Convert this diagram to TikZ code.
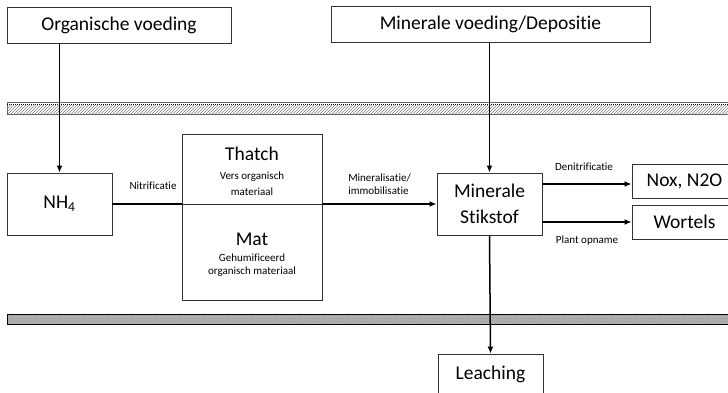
\documentclass[tikz,border=0pt]{standalone}
\usepackage{fontspec}
\setmainfont{Carlito}[Ligatures=NoCommon]
\usetikzlibrary{arrows.meta,patterns}
\newcommand{\grotetekst}{\fontsize{19.5}{26}\selectfont}
\newcommand{\kleinetekst}{\fontsize{11}{13.5}\selectfont}

\begin{document}
\begin{tikzpicture}[x=1pt,y=-1pt,
  box/.style={draw=black!80,line width=0.9pt,inner sep=0pt,align=center,font=\grotetekst},
  titel/.style={inner sep=0pt,font=\grotetekst},
  flow/.style={draw,line width=1.5pt,-{Latex[length=7pt,width=6pt]}},
  lbl/.style={font=\kleinetekst,inner sep=0pt,align=left}]
\useasboundingbox (0,0) rectangle (728,392);

% bodemlagen
\fill[pattern=north east lines,pattern color=gray] (7,105) rectangle (730,113);
\draw[gray!80!black,line width=0.8pt] (7,102) rectangle (730,114);
\draw[densely dotted,line width=1pt] (7,104.5) -- (730,104.5);
\fill[gray!60] (7,314) rectangle (730,324);
\fill[pattern=crosshatch dots,pattern color=gray!90] (7,314) rectangle (730,324);
\draw[line width=0.9pt] (7,314) rectangle (730,324);

% bronnen
\node[box,minimum width=224pt,minimum height=36pt] (orgv) at (119,25) {Organische voeding};
\node[box,minimum width=319pt,minimum height=36pt] (minv) at (490.5,24) {Minerale voeding/Depositie};

% bodem
\node[box,minimum width=105pt,minimum height=62pt] (nh4) at (59.5,204) {NH\textsubscript{4}};
\node[box,minimum width=140pt,minimum height=70pt] (thatch) at (252,169) {};
\node[titel] (thatchtitel) at (252,154) {Thatch};
\node[lbl,align=center] (thatchsub) at (252,183.5) {Vers organisch\\[3pt]materiaal};
\node[box,minimum width=140pt,minimum height=96pt] (mat) at (252,252) {};
\node[titel] (mattitel) at (252,239) {Mat};
\node[lbl,align=center] (matsub) at (252,265) {Gehumificeerd\\organisch materiaal};
\node[box,minimum width=105pt,minimum height=62pt] (stik) at (489.5,204) {Minerale\\Stikstof};

% verliezen
\node[box,minimum width=105pt,minimum height=34pt] (nox) at (684.5,181) {Nox, N2O};
\node[box,minimum width=105pt,minimum height=34pt] (wort) at (684.5,222) {Wortels};
\node[box,minimum width=105pt,minimum height=40pt] (leach) at (490.5,374) {Leaching};

% stromen
\draw[flow] (nh4.north |- orgv.south) -- (nh4.north);
\draw[flow] (stik.north |- minv.south) -- (stik.north);
\draw[line width=1.5pt] (nh4.east) -- (nh4.east -| mat.west)
  node[lbl,midway,above=14pt,xshift=6pt] (nitr) {Nitrificatie};
\draw[flow] (stik.west -| thatch.east) -- (stik.west)
  node[lbl,midway,above=8.5pt] (miner) {Mineralisatie/\\immobilisatie};
\draw[flow] ([yshift=-3pt]stik.east |- nox.west) -- ([yshift=-3pt]nox.west)
  node[lbl,midway,above=13pt,xshift=-3pt] (denit) {Denitrificatie};
\draw[flow] (stik.east |- wort.west) -- (wort.west)
  node[lbl,midway,below=13pt] (opname) {Plant opname};
\draw[flow] (stik.south) -- (leach.north);
\end{tikzpicture}
\end{document}
